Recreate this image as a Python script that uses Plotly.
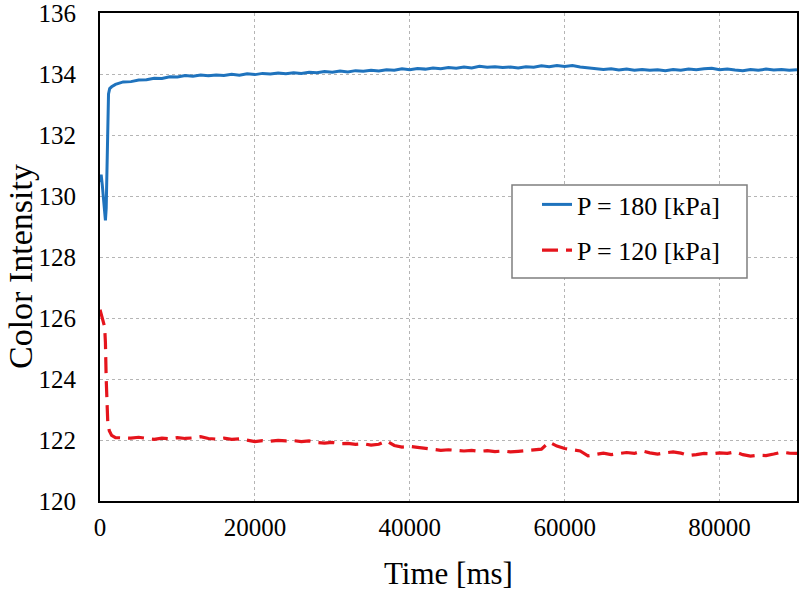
import plotly.graph_objects as go

# ---------------- data ----------------
blue_t = [0, 150, 300, 450, 600, 700, 800, 900, 1000, 1100, 1250, 1500,
          2000, 3000, 4000, 5000, 6000, 7000, 8000, 9000, 10000,
          11000, 12000, 13000, 14000, 15000, 16000, 17000, 18000, 19000, 20000,
          21000, 22000, 23000, 24000, 25000, 26000, 27000, 28000, 29000, 30000,
          31000, 32000, 33000, 34000, 35000, 36000, 37000, 38000, 39000, 40000,
          41000, 42000, 43000, 44000, 45000, 46000, 47000, 48000, 49000, 50000,
          51000, 52000, 53000, 54000, 55000, 56000, 57000, 58000, 59000, 60000,
          61000, 62000, 63000, 64000, 65000, 66000, 67000, 68000, 69000, 70000,
          71000, 72000, 73000, 74000, 75000, 76000, 77000, 78000, 79000, 80000,
          81000, 82000, 83000, 84000, 85000, 86000, 87000, 88000, 89000, 90000]
blue_v = [130.45, 130.70, 130.35, 129.85, 129.35, 129.20, 129.60, 131.00, 132.60, 133.35, 133.52, 133.58,
          133.66, 133.74, 133.75, 133.80, 133.81, 133.86, 133.85, 133.91, 133.90,
          133.95, 133.93, 133.97, 133.94, 133.97, 133.95, 133.99, 133.96, 134.01, 133.98,
          134.02, 134.00, 134.03, 134.01, 134.04, 134.02, 134.06, 134.04, 134.08, 134.06,
          134.10, 134.07, 134.11, 134.09, 134.12, 134.10, 134.14, 134.12, 134.17, 134.14,
          134.18, 134.16, 134.20, 134.17, 134.21, 134.19, 134.23, 134.20, 134.25, 134.22,
          134.24, 134.21, 134.23, 134.20, 134.24, 134.22, 134.27, 134.24, 134.28, 134.25,
          134.28, 134.23, 134.21, 134.18, 134.15, 134.17, 134.13, 134.16, 134.12, 134.15,
          134.12, 134.14, 134.11, 134.15, 134.12, 134.16, 134.14, 134.17, 134.19, 134.14,
          134.16, 134.13, 134.11, 134.15, 134.12, 134.16, 134.13, 134.15, 134.12, 134.14]

red_t = [0, 150, 300, 450, 600, 700, 800, 900, 1000, 1200, 1500,
         2000, 3000, 4000, 5000, 6000, 7000, 8000, 9000, 10000,
         11000, 12000, 13000, 14000, 15000, 16000, 17000, 18000, 19000, 20000,
         21000, 22000, 23000, 24000, 25000, 26000, 27000, 28000, 29000, 30000,
         31000, 32000, 33000, 34000, 35000, 36000, 37000, 38000, 39000, 40000,
         41000, 42000, 43000, 44000, 45000, 46000, 47000, 48000, 49000, 50000,
         51000, 52000, 53000, 54000, 55000, 56000, 57000, 58000, 59000, 60000,
         61000, 62000, 63000, 64000, 65000, 66000, 67000, 68000, 69000, 70000,
         71000, 72000, 73000, 74000, 75000, 76000, 77000, 78000, 79000, 80000,
         81000, 82000, 83000, 84000, 85000, 86000, 87000, 88000, 89000, 90000]
red_v = [126.27, 126.15, 126.00, 125.85, 125.70, 125.20, 124.00, 123.20, 122.60, 122.30, 122.15,
         122.08, 122.08, 122.06, 122.09, 122.05, 122.02, 122.06, 122.04, 122.08,
         122.05, 122.07, 122.11, 122.05, 122.03, 122.06, 122.02, 122.04, 122.00, 121.95,
         121.98, 121.96, 121.99, 121.97, 121.98, 121.95, 121.97, 121.92, 121.90, 121.92,
         121.88, 121.89, 121.86, 121.88, 121.83, 121.86, 121.97, 121.82, 121.77, 121.79,
         121.76, 121.72, 121.69, 121.66, 121.68, 121.65, 121.64, 121.66, 121.63, 121.65,
         121.62, 121.64, 121.61, 121.63, 121.66, 121.68, 121.70, 121.93, 121.80, 121.72,
         121.68, 121.64, 121.48, 121.53, 121.57, 121.52, 121.55, 121.59, 121.56, 121.64,
         121.58, 121.54, 121.58, 121.61, 121.57, 121.49, 121.52, 121.56, 121.55, 121.58,
         121.56, 121.61, 121.52, 121.47, 121.50, 121.49, 121.54, 121.60, 121.57, 121.56]

x_ticks = [0, 20000, 40000, 60000, 80000]
y_ticks = [120, 122, 124, 126, 128, 130, 132, 134, 136]
series_names = ["P = 180 [kPa]", "P = 120 [kPa]"]
x_title = "Time [ms]"
y_title = "Color Intensity"

FONT = "Liberation Serif"

fig = go.Figure()
fig.add_trace(go.Scatter(x=blue_t, y=blue_v, mode="lines", name=series_names[0],
                         legendgroup="a",
                         line=dict(color="#1F73BD", width=3)))
fig.add_trace(go.Scatter(x=red_t, y=red_v, mode="lines", name=series_names[1],
                         legendgroup="b",
                         line=dict(color="#E5141C", width=3.2, dash="16px,8px")))

L, R, T, B = 100, 3, 13, 94
W, H = 800, 595
pw, ph = W - L - R, H - T - B

def px_x(p):
    return (p - L) / pw

def px_y(p):
    return (H - B - p) / ph

fig.update_layout(
    template="none",
    width=W, height=H,
    margin=dict(l=L, r=R, t=T, b=B, autoexpand=False),
    paper_bgcolor="white", plot_bgcolor="white",
    font=dict(family=FONT, color="black", size=25),
    showlegend=True,
    legend=dict(x=px_x(537), y=px_y(181), xanchor="left", yanchor="top",
                bgcolor="rgba(0,0,0,0)", borderwidth=0,
                font=dict(family=FONT, size=26, color="black"),
                tracegroupgap=9, traceorder="grouped"),
    shapes=[dict(type="rect", xref="paper", yref="paper",
                 x0=px_x(512), x1=px_x(747), y0=px_y(278), y1=px_y(185),
                 line=dict(color="#7f7f7f", width=1.5), fillcolor="white",
                 layer="above")],
    annotations=[
        dict(text=x_title, xref="paper", yref="paper", x=px_x(448), y=px_y(573),
             xanchor="center", yanchor="middle", showarrow=False,
             font=dict(family=FONT, size=31, color="black")),
        dict(text=y_title, xref="paper", yref="paper", x=px_x(20), y=px_y(267),
             xanchor="center", yanchor="middle", showarrow=False, textangle=-90,
             font=dict(family=FONT, size=34, color="black")),
    ],
)
fig.update_xaxes(range=[0, 90000], tickvals=x_ticks, ticktext=[str(v) for v in x_ticks],
                 showline=True, linecolor="black", linewidth=2, mirror=True,
                 showgrid=True, gridcolor="#b5b5b5", gridwidth=1, griddash="3px,3px",
                 zeroline=False, ticks="", ticklabelstandoff=3, automargin=False,
                 ticklabeloverflow="allow",
                 tickfont=dict(family=FONT, size=25, color="black"))
fig.update_yaxes(range=[120, 136], tickvals=y_ticks, ticktext=[str(v) for v in y_ticks],
                 showline=True, linecolor="black", linewidth=2, mirror=True,
                 showgrid=True, gridcolor="#b5b5b5", gridwidth=1, griddash="3px,3px",
                 zeroline=False, ticks="", ticklabelstandoff=17, automargin=False,
                 ticklabeloverflow="allow",
                 tickfont=dict(family=FONT, size=25, color="black"))

fig.write_html("out.html", config={"displayModeBar": False},
               post_script="document.body.style.margin='0';document.body.style.padding='0';")
